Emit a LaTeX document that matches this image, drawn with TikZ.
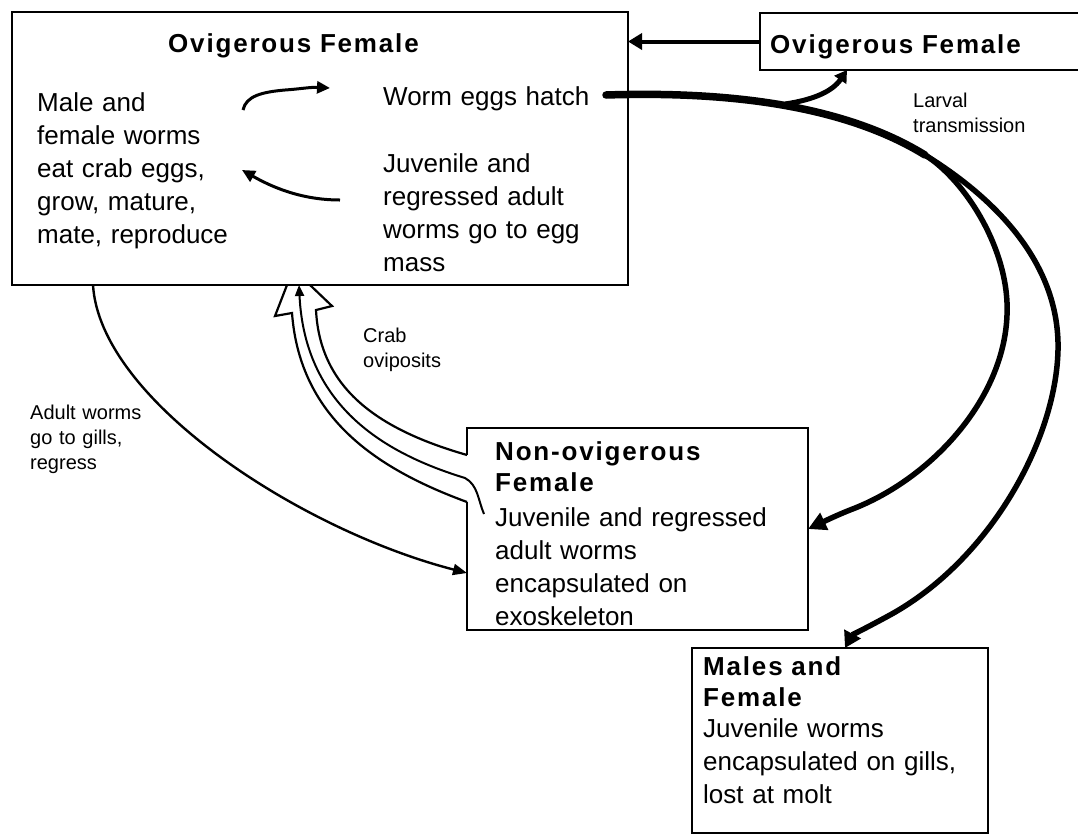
\documentclass[tikz,border=0pt]{standalone}
\usepackage{fontspec}
\setmainfont{Liberation Sans}
\newfontfamily\ttlfont[LetterSpace=7]{Liberation Sans}
\usetikzlibrary{arrows.meta,calc}
\tikzset{
  boxline/.style={line width=2.4pt},
  boxnode/.style={draw, boxline, anchor=north west, inner sep=0pt, outer sep=0pt},
  ttl/.style={font=\ttlfont\bfseries\fontsize{26pt}{31pt}\selectfont, anchor=base west, inner sep=0pt, text width=330pt, align=left},
  body/.style={font=\fontsize{26pt}{33pt}\selectfont, anchor=base west, inner sep=0pt, text width=330pt, align=left},
  lbl/.style={font=\fontsize{20pt}{25pt}\selectfont, anchor=base west, inner sep=0pt, text width=160pt, align=left},
  curve/.style={line width=5.5pt},
  inarrow/.style={line width=3pt},
  outl/.style={line width=2.2pt, line join=miter},
}
\begin{document}
\begin{tikzpicture}[x=1pt,y=-1pt]
\useasboundingbox (0,0) rectangle (1078,836);
\clip (0,0) rectangle (1078,836);
\fill[white] (0,0) rectangle (1078,836);

% boxes
\node[boxnode, minimum width=616pt, minimum height=273pt] (ovig) at (12,12) {};
\node[boxnode, minimum width=330pt, minimum height=57pt] (ovig2) at (760,13) {};
\node[anchor=north west, inner sep=0pt, outer sep=0pt, minimum width=341pt, minimum height=202pt] (nonovig) at (467,428) {};
\draw[boxline] (467,455) |- (808,428) |- (467,630) -- (467,502);
\node[boxnode, minimum width=296pt, minimum height=185pt] (males) at (692,648) {};

% texts
\node[ttl] (t1) at (168,52) {Ovigerous Female};
\node[ttl] (t2) at (770,53) {Ovigerous Female};
\node[body] (b1) at (37,111) {Male and\\female worms\\eat crab eggs,\\grow, mature,\\mate, reproduce};
\node[body] (hatch) at (383,105) {Worm eggs hatch};
\node[body] (b3) at (383,172) {Juvenile and\\regressed adult\\worms go to egg\\mass};
\node[ttl] (t3) at (495,460) {Non-ovigerous\\Female};
\node[body] (b4) at (495,526) {Juvenile and regressed\\adult worms\\encapsulated on\\exoskeleton};
\node[ttl] (t4) at (703,675) {Males and\\Female};
\node[body] (b5) at (703,737) {Juvenile worms\\encapsulated on gills,\\lost at molt};

\node[lbl] (larval) at (913,107) {Larval\\transmission};
\node[lbl] (crab) at (363,342) {Crab\\oviposits};
\node[lbl] (adult) at (30,419) {Adult worms\\go to gills,\\regress};

% named free ends
\coordinate (stem) at (606,95);
\coordinate (split) at (925,155);
\coordinate (branch) at (785,104);
\coordinate (a1s) at (243,110);
\coordinate (a1e) at (330,88);
\coordinate (a2s) at (340,200);
\coordinate (a2e) at (242,170);
\coordinate (juv) at (484,514);

% box2 -> box1
\draw[line width=4pt, -{Triangle[length=14pt,width=16pt]}] (ovig2.west) -- (ovig2.west -| ovig.east);

% arrows inside box1
\draw[inarrow, -{Triangle[length=13pt,width=12pt]}] (a1s) .. controls (246,96) and (262,92) .. (285,90) .. controls (300,89) and (310,87) .. (a1e);
\draw[inarrow, -{Triangle[length=13pt,width=12pt]}] (a2s) .. controls (300,200) and (270,186) .. (a2e);

% larval transmission curves
\draw[line width=7.5pt, line cap=round] (stem) .. controls (760,90) and (860,115) .. (split);
\draw[curve, -{Triangle[length=18pt,width=18pt]}] (split) .. controls (965,180) and (1010,250) .. (1007,315) .. controls (1004,400) and (930,480) .. (850,510) .. controls (835,516) and (825,521) .. (nonovig.east);
\draw[curve, -{Triangle[length=16pt,width=18pt]}] (split) .. controls (990,195) and (1060,260) .. (1058,350) .. controls (1056,440) and (990,560) .. (890,615) .. controls (868,627) and (852,635) .. ($(males.north west)+(153,0)$);
\draw[line width=5pt, -{Triangle[length=12pt,width=14pt]}] (branch) .. controls (812,100) and (832,92) .. ($(ovig2.south west)+(87,0)$);

% adult worms go to gills
\draw[line width=2.4pt, -{Triangle[length=14pt,width=11pt]}] ($(ovig.south west)+(81,0)$) .. controls (100,400) and (300,530) .. ($(nonovig.south west)+(0,-57)$);

% hollow arrow (crab oviposits)
\draw[outl] (467,502) .. controls (380,470) and (300,420) .. (292,313) -- (275,316) -- (287,285);
\draw[outl] (310,285) -- (332,306) -- (316,310) .. controls (320,390) and (380,430) .. (467,455);
\draw[line width=2pt, -{Triangle[length=11pt,width=9pt]}] (juv) .. controls (478,500) and (478,485) .. (465,478) .. controls (390,455) and (305,410) .. ($(ovig.south west)+(287,0)$);
\end{tikzpicture}
\end{document}
